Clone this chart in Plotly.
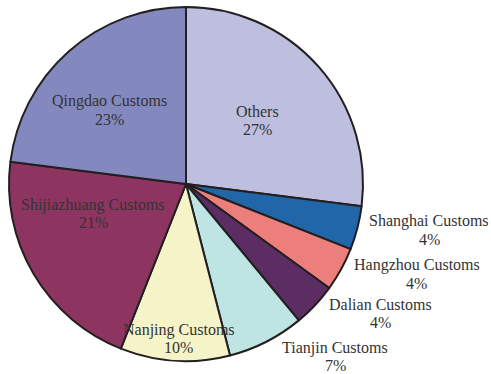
import math
import plotly.graph_objects as go

# Share of items handled, by customs office (percent)
offices = ["Others", "Shanghai Customs", "Hangzhou Customs", "Dalian Customs",
           "Tianjin Customs", "Nanjing Customs", "Shijiazhuang Customs", "Qingdao Customs"]
shares = [27, 4, 4, 4, 7, 10, 21, 23]
colors = ["#bebede", "#2166a8", "#ec7f7b", "#5c2d62",
          "#bee4e4", "#f5f3c8", "#8d3560", "#8389bf"]

# Label placement: distance from centre (in radii) and angular nudge (degrees)
label_r = [0.54, 1.40, 1.40, 1.32, 1.29, 0.876, 0.55, 0.60]
label_shift = [0, -3.7, -7.4, -9.4, -13.9, -1.0, 12.7, -4.7]

W, H = 491, 374
CX, CY, R = 186, 184, 177  # pie centre / radius in px

fig = go.Figure(go.Pie(
    labels=offices,
    values=shares,
    sort=False,
    direction="clockwise",
    rotation=0,
    marker=dict(colors=colors, line=dict(color="#231f20", width=2)),
    textinfo="none",
    hoverinfo="label+percent",
    showlegend=False,
    domain=dict(x=[(CX - R) / W, (CX + R) / W],
                y=[(H - CY - R) / H, (H - CY + R) / H]),
))

total = sum(shares)
annotations = []
cum = 0
for name, v, rf, sh in zip(offices, shares, label_r, label_shift):
    mid = (cum + v / 2) / total * 360 + sh
    cum += v
    a = math.radians(mid)
    px = CX + rf * R * math.sin(a)
    py = CY - rf * R * math.cos(a)
    pct = f"{round(v / total * 100)}%"
    for text, dy in ((name, -9), (pct, 9)):
        annotations.append(dict(
            x=px / W, y=1 - (py + dy) / H, xref="paper", yref="paper",
            text=text, showarrow=False, xanchor="center", yanchor="middle",
            font=dict(family="Liberation Serif", size=16, color="#333333"),
        ))

fig.update_layout(
    width=W, height=H,
    margin=dict(l=0, r=0, t=0, b=0),
    paper_bgcolor="white", plot_bgcolor="white",
    annotations=annotations,
)

fig.write_html("out.html")
